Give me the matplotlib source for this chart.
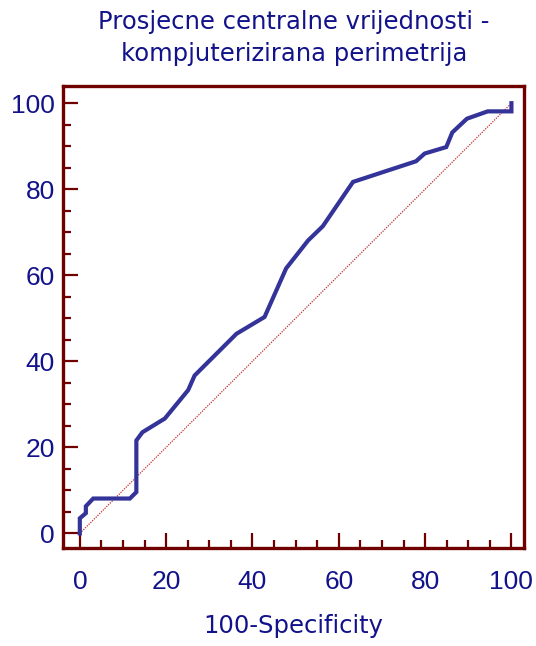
import matplotlib.pyplot as plt

# ROC curve points (100-Specificity, Sensitivity)
fpr = [0, 0, 1.4, 1.4, 3.1, 11.6, 13.1, 13.1, 14.5, 19.7, 25.1, 26.6, 36.3,
       42.8, 47.8, 52.9, 56.3, 63.3, 77.9, 79.9, 84.9, 86.3, 89.7, 94.5, 100, 100]
tpr = [0, 3.5, 4.7, 6.3, 8.1, 8.1, 9.6, 21.6, 23.5, 26.7, 33.3, 36.7, 46.4,
       50.3, 61.6, 68.1, 71.4, 81.7, 86.5, 88.3, 89.8, 93.2, 96.4, 98.1, 98.1, 100]
ticks = [0, 20, 40, 60, 80, 100]

title = "Prosjecne centralne vrijednosti -\nkompjuterizirana perimetrija"
xlabel = "100-Specificity"

navy = "#12128a"
maroon = "#700000"
curve_col = "#333399"

plt.rcParams['font.family'] = ['Liberation Sans', 'DejaVu Sans']

fig = plt.figure(figsize=(5.36, 6.46), dpi=100)
ax = fig.add_axes([0.1175, 0.1517, 0.860, 0.7152])

# chance line, then the ROC curve on top
ax.plot([0, 100], [0, 100], linestyle=(0, (1, 1)), color="#c03030", linewidth=0.9)
ax.plot(fpr, tpr, color=curve_col, linewidth=3.0, solid_joinstyle='miter')

ax.set_xlim(-3.9, 102.9)
ax.set_ylim(-3.4, 104)
ax.set_xticks(ticks)
ax.set_yticks(ticks)
ax.set_xticks(range(0, 101, 5), minor=True)
ax.set_yticks(range(0, 101, 5), minor=True)

for sp in ax.spines.values():
    sp.set_color(maroon)
    sp.set_linewidth(2.4)

ax.tick_params(which='both', direction='in', color=maroon, width=1.6,
               labelcolor=navy, labelsize=19)
ax.tick_params(which='major', length=10.5)
ax.tick_params(which='minor', length=5.5)
ax.tick_params(axis='x', which='major', pad=16)
ax.tick_params(axis='y', which='major', pad=6)

ax.set_xlabel(xlabel, color=navy, fontsize=17.5, family='DejaVu Sans', labelpad=14)
fig.text(0.548, 0.984, title, ha='center', va='top', color=navy,
         fontsize=17.5, family='DejaVu Sans', linespacing=1.42)

fig.savefig("out.png", dpi=100)
